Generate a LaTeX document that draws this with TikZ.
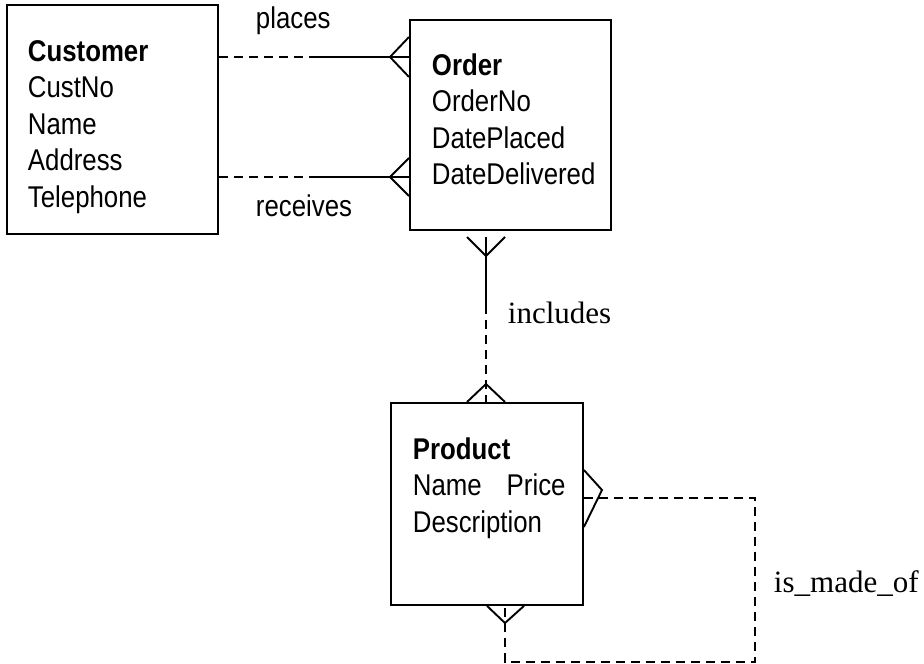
\documentclass[tikz,border=0pt]{standalone}
\usepackage{fontspec}
\setmainfont{Liberation Sans}[FakeStretch=0.86]
\newfontfamily\serifface{Liberation Serif}
\begin{document}
\begin{tikzpicture}[x=1pt,y=-1pt,
  line width=1.9pt,
  entity/.style={draw,rectangle,anchor=north west,inner sep=0pt},
  attrs/.style={anchor=base west,inner sep=0pt,font=\fontsize{30}{36.5}\selectfont},
  rel/.style={anchor=base west,inner sep=0pt,font=\fontsize{30}{34}\selectfont},
  rellabel/.style={anchor=base west,inner sep=0pt,font=\serifface\fontsize{31}{36}\selectfont},
  dashline/.style={dash pattern=on 9pt off 6pt},
  foot/.style={line join=miter}]
\useasboundingbox (0,0) rectangle (924,664);

% entity boxes
\node[entity,minimum width=211pt,minimum height=229pt] (cust) at (6,4) {};
\node[entity,minimum width=201pt,minimum height=210pt] (order) at (409,19) {};
\node[entity,minimum width=192pt,minimum height=202pt] (prod) at (390,402) {};

% attribute lists
\node[attrs] (custtxt) at (27,61) {\begin{tabular}[t]{@{}l@{}}\textbf{Customer}\\CustNo\\Name\\Address\\Telephone\end{tabular}};
\node[attrs] (ordertxt) at (431,75) {\begin{tabular}[t]{@{}l@{}}\textbf{Order}\\OrderNo\\DatePlaced\\DateDelivered\end{tabular}};
\node[attrs] (prodtxt) at (412,459) {\begin{tabular}[t]{@{}l@{}}\textbf{Product}\\Name\hspace{25pt}Price\\Description\end{tabular}};

% relationship labels
\node[rel] (lplaces) at (255,28) {places};
\node[rel] (lreceives) at (255,216) {receives};
\node[rellabel] (lincludes) at (507,323) {includes};
\node[rellabel] (lmadeof) at (773,592) {is\_made\_of};

% places
\coordinate (p0) at (cust.east |- 0,57);
\coordinate (p1) at (313,57);
\coordinate (p2) at (order.west |- 0,57);
\draw[dashline] (p0) -- (p1);
\draw (p1) -- (p2);
\draw[foot] (order.west |- 0,37) -- (390,57) -- (order.west |- 0,77);

% receives
\coordinate (r0) at (cust.east |- 0,177);
\coordinate (r1) at (313,177);
\coordinate (r2) at (order.west |- 0,177);
\draw[dashline] (r0) -- (r1);
\draw (r1) -- (r2);
\draw[foot] (order.west |- 0,158) -- (390,177) -- (order.west |- 0,196);

% includes
\coordinate (i0) at (486,237);
\coordinate (i1) at (486,305);
\coordinate (i2) at (prod.north -| 486,0);
\draw (i0) -- (i1);
\draw[dashline] (i1) -- (i2);
\draw[foot] (467,237) -- (486,256) -- (505,237);
\draw[foot] (prod.north -| 467,0) -- (486,384) -- (prod.north -| 505,0);

% is_made_of (recursive)
\coordinate (m0) at (prod.east |- 0,498);
\coordinate (m1) at (755,498);
\coordinate (m2) at (755,662);
\coordinate (m3) at (505,662);
\coordinate (m4) at (prod.south -| 505,0);
\draw[dashline] (m0) -- (m1) -- (m2) -- (m3) -- (m4);
\draw[foot] (prod.east |- 0,470) -- (602,490) -- (prod.east |- 0,527);
\draw[foot] (prod.south -| 487,0) -- (505,623) -- (prod.south -| 524,0);
\end{tikzpicture}
\end{document}
